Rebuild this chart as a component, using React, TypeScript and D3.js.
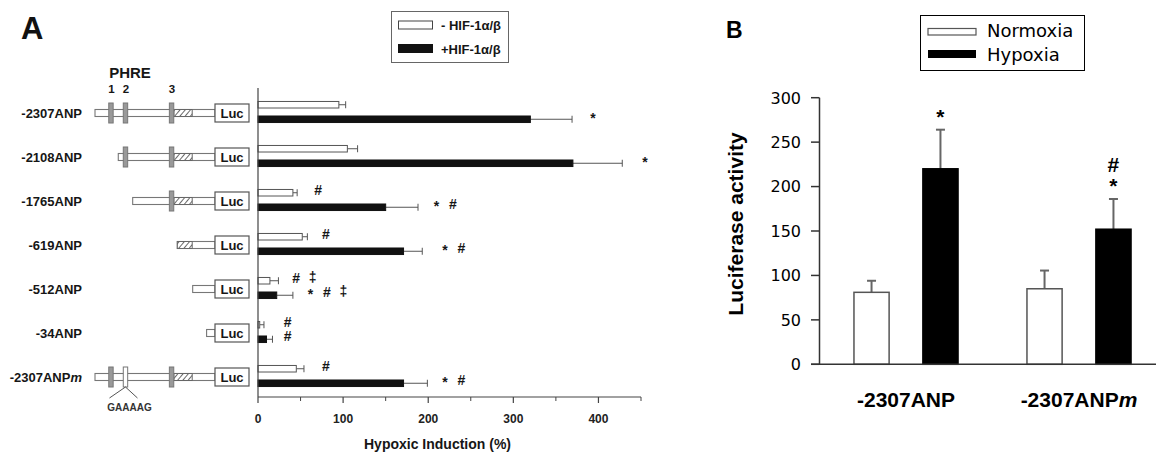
import React from 'react';
import * as d3 from 'd3';

// ---- Panel A data ----
const constructs = ['-2307ANP', '-2108ANP', '-1765ANP', '-619ANP', '-512ANP', '-34ANP', '-2307ANPm'];
const minusHIF = [95, 105, 41, 52, 14, 2, 45];
const minusHIFErr = [8, 12, 5, 6, 10, 5, 9];
const plusHIF = [320, 370, 150, 171, 22, 10, 171];
const plusHIFErr = [49, 58, 38, 22, 19, 7, 28];
const minusMarks = ['', '', '#', '#', '# \u2021', '#', '#'];
const plusMarks = ['*', '*', '* #', '* #', '* # \u2021', '#', '* #'];
const minusMarkAt = [0, 0, 66, 75, 40, 30, 75];
const plusMarkAt = [389, 450, 205, 215, 57, 30, 215];
const xTicksA = [0, 100, 200, 300, 400];
const xMinorA = [50, 150, 250, 350, 450];

// promoter schematic, relative units (0 = 5' end of -2307, 1 = Luc)
const constructStart = [0, 0.194, 0.314, 0.686, 0.814, 0.93, 0];
const phreSites = [0.133, 0.254, 0.638];
const phreNames = ['1', '2', '3'];
const mutatedSites: number[][] = [[], [], [], [], [], [], [1]];
const hatchRange = [0.658, 0.81];

// ---- Panel B data ----
const groupsB = ['-2307ANP', '-2307ANPm'];
const seriesB = ['Normoxia', 'Hypoxia'];
const normoxia = [81, 85];
const normoxiaErr = [13, 20.5];
const hypoxia = [220, 152];
const hypoxiaErr = [44, 34];
const marksB = [['*'], ['*', '#']];
const yTicksB = [0, 50, 100, 150, 200, 250, 300];

const ARIAL = "'Liberation Sans', Arial, sans-serif";
const NARROW = "'Liberation Sans Narrow', 'Liberation Sans', Arial, sans-serif";
const DEJAVU = "'DejaVu Sans', sans-serif";
const INK_A = '#161616';

const label = (name: string, props: any) =>
  name.endsWith('m') ? (
    <text {...props}>
      {name.slice(0, -1)}
      <tspan fontStyle="italic">m</tspan>
    </text>
  ) : (
    <text {...props}>{name}</text>
  );

export default function App() {
  // panel A scales
  const xA = d3.scaleLinear().domain([0, 450]).range([258, 641]);
  const yA = d3.scaleBand().domain(constructs).range([90, 398]);
  const sub = d3.scaleBand().domain(['minus', 'plus']).range([0, yA.step()]).paddingInner(0.55).paddingOuter(0.79);
  const pr = d3.scaleLinear().domain([0, 1]).range([95, 215]);
  const mid = (c: string) => (yA(c) as number) + yA.bandwidth() / 2;

  // panel B scales
  const yB = d3.scaleLinear().domain([0, 300]).range([364.3, 97.7]);
  const x0 = d3.scaleBand().domain(groupsB).range([819.5, 1165.5]);
  const x1 = d3.scaleBand().domain(seriesB).range([0, x0.bandwidth()]).paddingInner(0.49).paddingOuter(0.5);

  const barsA = constructs.flatMap((c, i) => [
    { c, key: 'minus', v: minusHIF[i], e: minusHIFErr[i], marks: minusMarks[i], at: minusMarkAt[i] },
    { c, key: 'plus', v: plusHIF[i], e: plusHIFErr[i], marks: plusMarks[i], at: plusMarkAt[i] },
  ]);

  const barsB = groupsB.flatMap((g, i) => [
    { g, s: 'Normoxia', v: normoxia[i], e: normoxiaErr[i], marks: [] as string[] },
    { g, s: 'Hypoxia', v: hypoxia[i], e: hypoxiaErr[i], marks: marksB[i] },
  ]);

  // symbols sit a little above the bar they belong to
  const symShift = (s: string) => (s === '*' ? 4 : s === '#' ? 2 : 1);

  return (
    <svg width={1156} height={456} style={{ position: 'absolute', left: 0, top: 0, background: '#fff' }}>
      <defs>
        <pattern id="hatch" width={4} height={4} patternUnits="userSpaceOnUse" patternTransform="rotate(40)">
          <rect width={4} height={4} fill="#fff" />
          <line x1={0} y1={0} x2={0} y2={4} stroke="#444" strokeWidth={1.6} />
        </pattern>
      </defs>

      {/* ===== Panel A ===== */}
      <text x={21} y={39} fontFamily={ARIAL} fontWeight="bold" fontSize={31} fill="#111">A</text>

      {/* legend A */}
      <rect x={391.5} y={11.5} width={117} height={51} fill="#fff" stroke="#666" />
      <rect x={398.5} y={21} width={34} height={8} fill="#fff" stroke="#444" />
      <rect x={398.5} y={44.5} width={34} height={8} fill="#111" stroke="#111" />
      <text x={441} y={30} fontFamily={ARIAL} fontWeight="bold" fontSize={13} fill={INK_A}>- HIF-1α/β</text>
      <text x={441} y={54} fontFamily={ARIAL} fontWeight="bold" fontSize={13} fill={INK_A}>+HIF-1α/β</text>

      {/* PHRE header */}
      <text x={130} y={77.5} textAnchor="middle" fontFamily={ARIAL} fontWeight="bold" fontSize={15} fill={INK_A}>PHRE</text>
      {phreSites.map((s, k) => (
        <text key={k} x={pr(s) + 0.5} y={93.3} textAnchor="middle" fontFamily={ARIAL} fontWeight="bold" fontSize={11.5} fill={INK_A}>
          {phreNames[k]}
        </text>
      ))}

      {/* constructs + row labels */}
      {constructs.map((c, i) => {
        const cy = mid(c) + 1;
        const st = constructStart[i];
        const hs = Math.max(st, hatchRange[0]);
        return (
          <g key={c}>
            {label(c, {
              x: 82, y: cy + 4.5, textAnchor: 'end', fontFamily: ARIAL, fontWeight: 'bold', fontSize: 13, fill: INK_A,
            })}
            <rect x={pr(st)} y={cy - 3.5} width={pr(1) - pr(st)} height={7} fill="#fff" stroke="#777" strokeWidth={1.1} />
            {hs < hatchRange[1] && (
              <rect x={pr(hs)} y={cy - 3.5} width={pr(hatchRange[1]) - pr(hs)} height={7} fill="url(#hatch)" stroke="#666" strokeWidth={1} />
            )}
            {phreSites.map((s, k) =>
              s >= st ? (
                <rect key={k} x={pr(s) - 2.2} y={cy - 10} width={4.4} height={20}
                  fill={mutatedSites[i].includes(k) ? '#fff' : '#999'} stroke="#777" strokeWidth={1} />
              ) : null
            )}
            {mutatedSites[i].map((k) => (
              <g key={'m' + k}>
                <line x1={pr(phreSites[k])} y1={cy + 10} x2={pr(phreSites[k]) - 16} y2={cy + 21} stroke="#555" />
                <line x1={pr(phreSites[k])} y1={cy + 10} x2={pr(phreSites[k]) + 12} y2={cy + 21} stroke="#555" />
                <text x={pr(phreSites[k]) + 4} y={cy + 34} textAnchor="middle" fontFamily={ARIAL} fontWeight="bold" fontSize={10} fill="#333">
                  GAAAAG
                </text>
              </g>
            ))}
            <rect x={pr(1)} y={cy - 9} width={34} height={18} fill="#fff" stroke="#555" strokeWidth={1.2} />
            <text x={pr(1) + 17} y={cy + 4.5} textAnchor="middle" fontFamily={ARIAL} fontWeight="bold" fontSize={13} fill={INK_A}>Luc</text>
          </g>
        );
      })}

      {/* bars A */}
      {barsA.map((b, i) => {
        const y = (yA(b.c) as number) + (sub(b.key) as number);
        const h = sub.bandwidth();
        const cy = y + h / 2;
        const syms = b.marks ? b.marks.split(' ') : [];
        return (
          <g key={i}>
            <line x1={xA(b.v)} x2={xA(b.v + b.e)} y1={cy} y2={cy} stroke="#555" strokeWidth={1} />
            <line x1={xA(b.v + b.e)} x2={xA(b.v + b.e)} y1={cy - 3.5} y2={cy + 3.5} stroke="#555" strokeWidth={1} />
            <rect x={xA(0)} y={y} width={xA(b.v) - xA(0)} height={h}
              fill={b.key === 'plus' ? '#111' : '#fff'} stroke={b.key === 'plus' ? '#111' : '#555'} strokeWidth={1} />
            {syms.map((s, k) => (
              <text key={k} x={xA(b.at) + 4 + k * 16.5} y={cy + symShift(s)} textAnchor="middle"
                fontFamily={ARIAL} fontWeight="bold" fontSize={14} fill={INK_A}>
                {s}
              </text>
            ))}
          </g>
        );
      })}

      {/* axes A */}
      <line x1={xA(0)} x2={xA(0)} y1={88} y2={397} stroke="#444" strokeWidth={1.2} />
      <line x1={xA(0)} x2={xA(450)} y1={397} y2={397} stroke="#444" strokeWidth={1.2} />
      {xTicksA.map((t) => (
        <g key={t}>
          <line x1={xA(t)} x2={xA(t)} y1={397} y2={403} stroke="#444" strokeWidth={1.2} />
          <text x={xA(t)} y={423} textAnchor="middle" fontFamily={NARROW} fontWeight="bold" fontSize={12} fill="#222">{t}</text>
        </g>
      ))}
      {xMinorA.map((t) => (
        <line key={t} x1={xA(t)} x2={xA(t)} y1={397} y2={401} stroke="#444" strokeWidth={1} />
      ))}
      <text x={437.5} y={449} textAnchor="middle" fontFamily={ARIAL} fontWeight="bold" fontSize={14} fill={INK_A}>
        Hypoxic Induction (%)
      </text>

      {/* ===== Panel B ===== */}
      <text x={726} y={38} fontFamily={ARIAL} fontWeight="bold" fontSize={23} fill="#000">B</text>

      {/* legend B */}
      <rect x={920.5} y={15.5} width={164} height={55} fill="#fff" stroke="#000" strokeWidth={1} />
      <rect x={928} y={28.5} width={48} height={6.5} fill="#fff" stroke="#555" strokeWidth={1.2} />
      <rect x={928} y={50} width={48} height={8} fill="#000" />
      <text x={987} y={37.3} fontFamily={DEJAVU} fontSize={18} fill="#000">Normoxia</text>
      <text x={987} y={61} fontFamily={DEJAVU} fontSize={18} fill="#000">Hypoxia</text>

      {/* y axis B */}
      <line x1={819.5} x2={819.5} y1={yB(300)} y2={yB(0)} stroke="#333" strokeWidth={1.5} />
      {yTicksB.map((t) => (
        <g key={t}>
          <line x1={811} x2={819.5} y1={yB(t)} y2={yB(t)} stroke="#333" strokeWidth={1.5} />
          <text x={801} y={yB(t) + 5.8} textAnchor="end" fontFamily={DEJAVU} fontSize={16} fill="#000">{t}</text>
        </g>
      ))}
      <text transform={`translate(743,224) rotate(-90)`} textAnchor="middle" fontFamily={ARIAL} fontWeight="bold" fontSize={21} fill="#000">
        Luciferase activity
      </text>

      {/* bars B */}
      {barsB.map((b, i) => {
        const x = (x0(b.g) as number) + (x1(b.s) as number);
        const w = x1.bandwidth();
        const cx = x + w / 2;
        const top = yB(b.v + b.e);
        return (
          <g key={i}>
            <line x1={cx} x2={cx} y1={yB(b.v)} y2={top} stroke="#666" strokeWidth={2} />
            <line x1={cx - 4.5} x2={cx + 4.5} y1={top} y2={top} stroke="#666" strokeWidth={2} />
            <rect x={x} y={yB(b.v)} width={w} height={yB(0) - yB(b.v)}
              fill={b.s === 'Hypoxia' ? '#000' : '#fff'} stroke={b.s === 'Hypoxia' ? '#000' : '#555'} strokeWidth={1.5} />
            {b.marks.map((m, k) => {
              const c = top - 18 - k * 17;
              return (
                <text key={k} x={cx} y={c + (m === '*' ? 12 : 7.5)} textAnchor="middle" fontFamily={ARIAL} fontWeight="bold" fontSize={21} fill="#000">
                  {m}
                </text>
              );
            })}
          </g>
        );
      })}

      {/* x axis B */}
      <line x1={811} x2={1156} y1={yB(0)} y2={yB(0)} stroke="#333" strokeWidth={1.5} />
      {groupsB.map((g) =>
        label(g, {
          key: g, x: (x0(g) as number) + x0.bandwidth() / 2, y: 406.7, textAnchor: 'middle',
          fontFamily: ARIAL, fontWeight: 'bold', fontSize: 21, fill: '#000',
        })
      )}
    </svg>
  );
}
